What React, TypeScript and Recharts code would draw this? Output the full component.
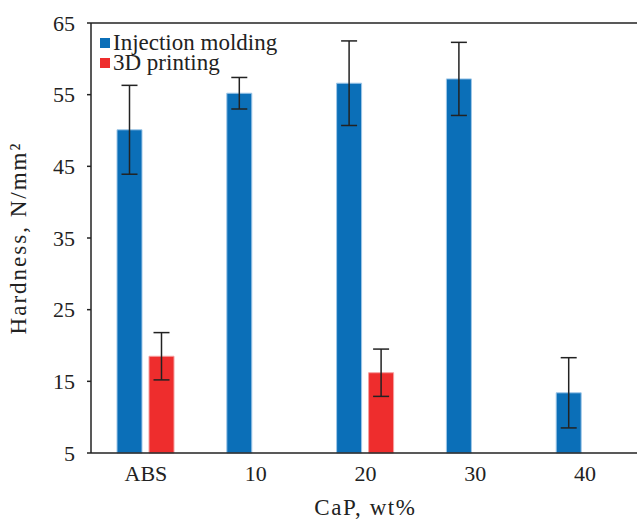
import React from 'react';
import { BarChart, Bar, XAxis, YAxis, ErrorBar, ReferenceLine } from 'recharts';

// categories (CaP content)
const categories = ['ABS', '10', '20', '30', '40'];
// hardness values, N/mm2
const injectionValues = [50.1, 55.2, 56.6, 57.2, 13.4];
const injectionErrors = [6.2, 2.2, 5.9, 5.1, 4.9];
const printingValues: (number | null)[] = [18.5, null, 16.2, null, null];
const printingErrors: (number | null)[] = [3.3, null, 3.3, null, null];
const yTicks = [5, 15, 25, 35, 45, 55, 65];

const data = categories.map((c, i) => ({
    name: c,
    injection: injectionValues[i],
    injectionErr: injectionErrors[i],
    printing: printingValues[i],
    printingErr: printingErrors[i],
}));

const BLUE = '#0b6fb8';
const RED = '#ee2d2d';
const AXIS = '#222';
const FONT = '"Liberation Serif", "DejaVu Serif", serif';

const legendItems = [
    { label: 'Injection molding', color: BLUE },
    { label: '3D printing', color: RED },
];

function LegendBox() {
    return (
        <div style={{ position: 'absolute', left: 100, top: 33, fontFamily: FONT, fontSize: 23, color: '#222', lineHeight: '20px' }}>
            {legendItems.map((it) => (
                <div key={it.label} style={{ display: 'flex', alignItems: 'center', height: 20 }}>
                    <span style={{ display: 'inline-block', width: 10, height: 10, background: it.color, marginRight: 3 }} />
                    <span>{it.label}</span>
                </div>
            ))}
        </div>
    );
}

export default function App() {
    return (
        <div style={{ position: 'absolute', left: 0, top: 0, width: 637, height: 522, overflow: 'hidden', background: '#fff' }}>
            <BarChart
                width={640}
                height={522}
                data={data}
                margin={{ top: 23, right: 0, bottom: 0, left: 0 }}
                barSize={25}
                barGap={7}
            >
                <XAxis
                    dataKey="name"
                    height={69}
                    tickLine={false}
                    axisLine={{ stroke: AXIS, strokeWidth: 1.5 }}
                    tick={{ fill: '#222', fontSize: 22, fontFamily: FONT }}
                    tickMargin={6}
                    label={{ value: 'CaP, wt%', position: 'insideBottom', offset: 7, fill: '#222', fontSize: 23, fontFamily: FONT, style: { letterSpacing: 1.6 } }}
                />
                <YAxis
                    domain={[5, 65]}
                    ticks={yTicks}
                    width={91}
                    tickSize={4}
                    tickLine={{ stroke: AXIS, strokeWidth: 1.5 }}
                    axisLine={{ stroke: AXIS, strokeWidth: 1.5 }}
                    tick={{ fill: '#222', fontSize: 22, fontFamily: FONT }}
                    tickMargin={12}
                    label={{ value: 'Hardness, N/mm²', angle: -90, position: 'insideLeft', offset: 18, fill: '#222', fontSize: 23, fontFamily: FONT, style: { textAnchor: 'middle', letterSpacing: 2 } }}
                />
                <ReferenceLine y={65} stroke={AXIS} strokeWidth={1.5} />
                <Bar dataKey="injection" name="Injection molding" fill={BLUE} stroke="#9fc7e8" strokeWidth={1} isAnimationActive={false}>
                    <ErrorBar dataKey="injectionErr" width={8} stroke={AXIS} strokeWidth={1.5} />
                </Bar>
                <Bar dataKey="printing" name="3D printing" fill={RED} stroke="#f5a0a0" strokeWidth={1} isAnimationActive={false}>
                    <ErrorBar dataKey="printingErr" width={8} stroke={AXIS} strokeWidth={1.5} />
                </Bar>
            </BarChart>
            <LegendBox />
        </div>
    );
}
